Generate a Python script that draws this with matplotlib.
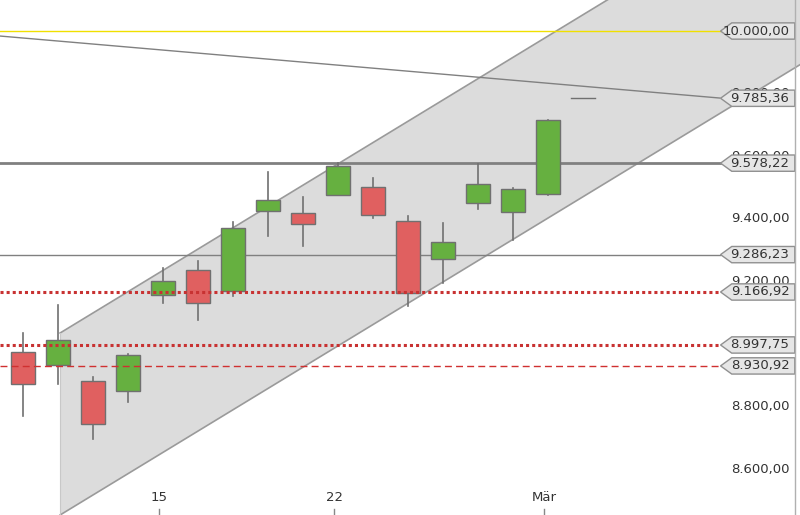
import matplotlib
matplotlib.use("Agg")
import matplotlib.pyplot as plt
import numpy as np
from matplotlib.patches import Polygon

opens  = [8976, 8934, 8883, 8851, 9157, 9237, 9170, 9426, 9419, 9477, 9502, 9394, 9272, 9451, 9422, 9480, 9786]
closes = [8873, 9014, 8746, 8966, 9202, 9132, 9371, 9461, 9384, 9569, 9413, 9164, 9327, 9512, 9496, 9716, 9786]
highs  = [9036, 9125, 8896, 8970, 9244, 9266, 9390, 9550, 9470, 9579, 9531, 9410, 9387, 9576, 9500, 9716, 9786]
lows   = [8771, 8873, 8698, 8816, 9132, 9078, 9154, 9346, 9314, 9477, 9403, 9122, 9196, 9432, 9333, 9477, 9786]
xtick_pos = [4, 9, 15]
xtick_labels = ["15", "22", "Mär"]
ytick_vals = [8600, 8800, 9200, 9400, 9600, 9800]
levels = [10000.00, 9785.36, 9578.22, 9286.23, 9166.92, 8997.75, 8930.92]
channel_start = 1.06
channel_upper0, channel_lower0, channel_slope = 9036, 8455, 68.0
trend_x = [-0.66, 19.91]
trend_y = [9984, 9786]

def fmt(v):
    s = f"{v:,.2f}"
    return s.replace(",", "X").replace(".", ",").replace("X", ".")

fig = plt.figure(figsize=(8, 5.15), dpi=100)
ax = fig.add_axes([0, 0, 1, 1])
xl = (-0.657, 22.2)
ax.set_xlim(*xl)
ax.set_ylim(8455, 10099)
ax.axis("off")

xe = xl[1]
cu = lambda x: channel_upper0 + channel_slope * (x - channel_start)
cl = lambda x: channel_lower0 + channel_slope * (x - channel_start)
xs = np.array([channel_start, xe])
ax.fill_between(xs, cl(xs), cu(xs), color="#dcdcdc", zorder=1, lw=0)
ax.plot(xs, cu(xs), color="#9a9a9a", lw=1.2, zorder=2)
ax.plot(xs, cl(xs), color="#9a9a9a", lw=1.2, zorder=2)
ax.plot([channel_start, channel_start], [8455, channel_upper0], color="#c8c8c8", lw=0.8, zorder=2)

xr = 19.91
ax.plot([xl[0], xr], [levels[0]] * 2, color="#f0e000", lw=1.0, zorder=3)
ax.plot(trend_x, trend_y, color="#808080", lw=1.0, zorder=3)
ax.plot([xl[0], xr], [levels[2]] * 2, color="#808080", lw=2.0, zorder=3)
ax.plot([xl[0], xr], [levels[3]] * 2, color="#808080", lw=1.0, zorder=3)
ax.plot([xl[0], xr], [levels[4]] * 2, color="#c83232", lw=2.2, ls=(0, (1, 1)), zorder=5)
ax.plot([xl[0], xr], [levels[5]] * 2, color="#c83232", lw=2.2, ls=(0, (1, 1)), zorder=5)
ax.plot([xl[0], xr], [levels[6]] * 2, color="#d03030", lw=1.0, ls=(0, (5, 3)), zorder=5)

w = 0.34
for i, (o, c, h, l) in enumerate(zip(opens, closes, highs, lows)):
    col = "#66b040" if c > o else "#e06060"
    if c == o:
        ax.plot([i - w, i + w], [o, o], color="#707070", lw=1, zorder=4)
        continue
    ax.plot([i, i], [l, h], color="#707070", lw=1.2, zorder=3.5)
    ax.bar(i, abs(c - o), bottom=min(o, c), width=2 * w, color=col,
           edgecolor="#707070", lw=1, zorder=4)

for v in ytick_vals:
    ax.text(21.9, v, fmt(v), ha="right", va="center", fontsize=9.5, color="#333333", zorder=6)

for v in levels:
    x0, x1, xt = 19.93, 22.05, 20.25
    hh = 26
    poly = Polygon([[x0, v], [xt, v + hh], [x1, v + hh], [x1, v - hh], [xt, v - hh]],
                   closed=True, fc="#e6e6e6", ec="#909090", lw=1, zorder=7)
    ax.add_patch(poly)
    ax.text(21.9, v, fmt(v), ha="right", va="center", fontsize=9.5, color="#333333", zorder=8)

ax.plot([22.05, 22.05], [8455, 10099], color="#b0b0b0", lw=1, zorder=8)

for p, lab in zip(xtick_pos, xtick_labels):
    ax.text(p - 0.1, 8510, lab, ha="center", va="center", fontsize=9.5, color="#333333")
    ax.plot([p - 0.1, p - 0.1], [8455, 8475], color="#888888", lw=1)

fig.savefig("out.png", dpi=100)
